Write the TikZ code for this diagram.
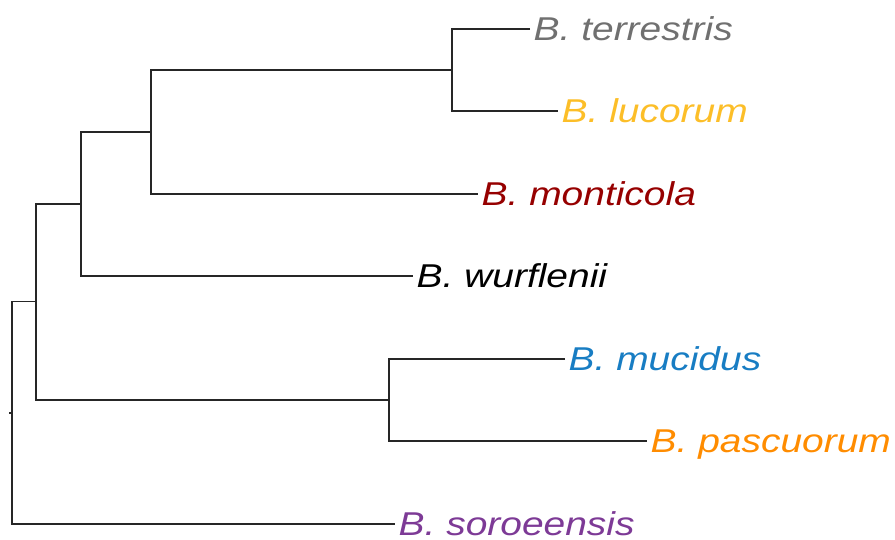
\documentclass[tikz,border=0pt]{standalone}
\usepackage{fontspec}
\setmainfont{Liberation Sans}
\definecolor{cTerr}{RGB}{112,112,112}
\definecolor{cLuco}{RGB}{252,190,40}
\definecolor{cMont}{RGB}{150,0,0}
\definecolor{cWurf}{RGB}{0,0,0}
\definecolor{cMuci}{RGB}{24,125,195}
\definecolor{cPasc}{RGB}{255,140,0}
\definecolor{cSoro}{RGB}{125,58,150}
\newcommand{\taxon}[1]{\scalebox{1.18}[1]{\fontsize{33}{34}\selectfont\itshape #1}}
\begin{document}
\begin{tikzpicture}[x=1pt,y=-1pt,
  branch/.style={line width=1.7pt, draw=black!85},
  taxlabel/.style={anchor=base west, inner sep=0pt, xshift=3.5pt, yshift=-11.8pt}]
\useasboundingbox (0,0) rectangle (895,540);

% internal nodes
\coordinate (nE) at (452,70);
\coordinate (nD) at (151,132);
\coordinate (nC) at (81,204);
\coordinate (nF) at (389,400);
\coordinate (nB) at (36,301.5);
\coordinate (nA) at (12,413);
\coordinate (root) at (9,413);

% branch tips
\coordinate (t1) at (530,29);
\coordinate (t2) at (558,111);
\coordinate (t3) at (478,194);
\coordinate (t4) at (413,276);
\coordinate (t5) at (565,359);
\coordinate (t6) at (647,441);
\coordinate (t7) at (395,524);

% tree
\draw[branch] (t1) -| (nE) |- (t2);
\draw[branch] (nE) -| (nD) |- (t3);
\draw[branch] (nD) -| (nC) |- (t4);
\draw[branch] (t5) -| (nF) |- (t6);
\draw[branch] (nC) -| (nB) |- (nF);
\draw[branch] (nB) -| (nA) |- (t7);
\draw[branch] (nA) -- (root);

% species labels
\node[taxlabel, text=cTerr] (lTerr) at (t1) {\taxon{B. terrestris}};
\node[taxlabel, text=cLuco] (lLuco) at (t2) {\taxon{B. lucorum}};
\node[taxlabel, text=cMont] (lMont) at (t3) {\taxon{B. monticola}};
\node[taxlabel, text=cWurf] (lWurf) at (t4) {\taxon{B. wurflenii}};
\node[taxlabel, text=cMuci] (lMuci) at (t5) {\taxon{B. mucidus}};
\node[taxlabel, text=cPasc] (lPasc) at (t6) {\taxon{B. pascuorum}};
\node[taxlabel, text=cSoro, text depth=0pt] (lSoro) at (t7) {\taxon{B. soroeensis}};
\end{tikzpicture}
\end{document}
